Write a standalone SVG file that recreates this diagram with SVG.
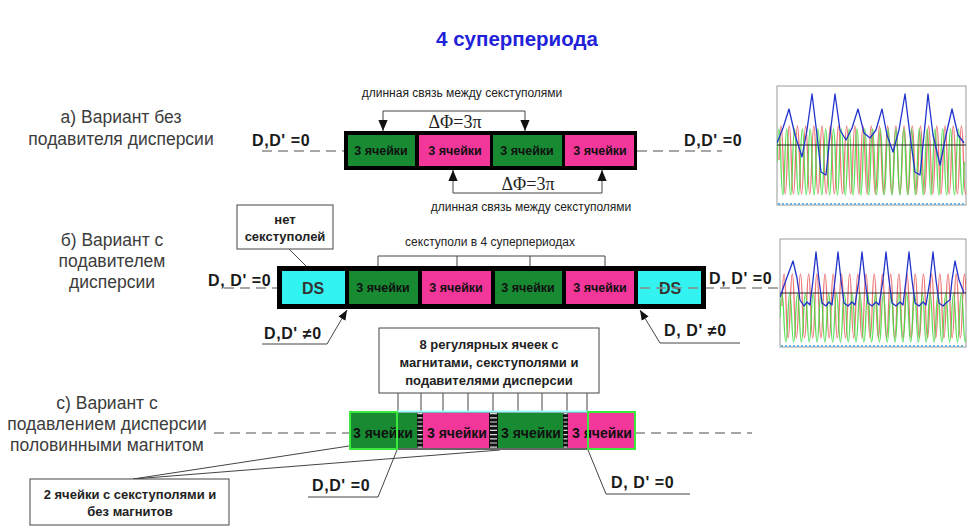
<svg xmlns="http://www.w3.org/2000/svg" width="974" height="527" viewBox="0 0 974 527">
<defs>
<style>
.lbl{font-family:"Liberation Sans",Arial,sans-serif;font-size:17.5px;fill:#3c3c3c;text-anchor:middle}
.cell{font-family:"Liberation Sans",Arial,sans-serif;font-weight:bold;font-size:12.5px;fill:#111;text-anchor:middle}
.cellc{font-family:"Liberation Sans",Arial,sans-serif;font-weight:bold;font-size:14px;fill:#111;text-anchor:middle}
.ds{font-family:"Liberation Sans",Arial,sans-serif;font-weight:bold;font-size:16px;fill:#333;text-anchor:middle}
.dd{font-family:"Liberation Sans",Arial,sans-serif;font-weight:bold;font-size:16px;fill:#1a1a1a;letter-spacing:0.6px}
.sm{font-family:"Liberation Sans",Arial,sans-serif;font-size:12px;fill:#222;text-anchor:middle}
.bx{font-family:"Liberation Sans",Arial,sans-serif;font-weight:bold;font-size:13px;fill:#222;text-anchor:middle}
.phi{font-family:"Liberation Serif","Times New Roman",serif;font-size:18px;fill:#222;text-anchor:middle}
.box{fill:#fff;stroke:#444;stroke-width:1}
.dash{stroke:#8a8a8a;stroke-width:1.5;stroke-dasharray:10 6;fill:none}
.ln{stroke:#444;stroke-width:1;fill:none}
.g{fill:#178a32}.p{fill:#f2369a}.c{fill:#33f3f0}
.frame{fill:#fff;stroke:#9a9a9a;stroke-width:1}
</style>
<marker id="ah" viewBox="0 0 10 10" refX="10" refY="5" markerWidth="11" markerHeight="11" markerUnits="userSpaceOnUse" orient="auto">
<path d="M0,0.8 L10,5 L0,9.2 z" fill="#111"/>
</marker>
<marker id="ah2" viewBox="0 0 10 10" refX="10" refY="5" markerWidth="10" markerHeight="10" markerUnits="userSpaceOnUse" orient="auto">
<path d="M0,1 L10,5 L0,9 z" fill="#111"/>
</marker>
<clipPath id="cp1"><rect x="777" y="86" width="189" height="119"/></clipPath>
<clipPath id="cp2"><rect x="780" y="239" width="186" height="108"/></clipPath>
</defs>
<rect width="974" height="527" fill="#fff"/>

<text x="517" y="46" font-family="Liberation Sans,Arial,sans-serif" font-weight="bold" font-size="20.5" fill="#1f22d8" text-anchor="middle">4 суперпериода</text>

<g id="labels">
<text class="lbl" x="121" y="123">а) Вариант без</text>
<text class="lbl" x="121" y="145">подавителя дисперсии</text>
<text class="lbl" x="112" y="246">б) Вариант с</text>
<text class="lbl" x="112" y="267">подавителем</text>
<text class="lbl" x="112" y="288">дисперсии</text>
<text class="lbl" x="107" y="409">с) Вариант с</text>
<text class="lbl" x="107" y="430">подавлением дисперсии</text>
<text class="lbl" x="107" y="451">половинными магнитом</text>
</g>

<g id="connectors">
<path class="dash" d="M262,151 H344 M637,151 H722"/>
<path class="ln" d="M383,111 H525"/>
<path class="ln" d="M383,111 V131" marker-end="url(#ah)"/>
<path class="ln" d="M525,111 V131" marker-end="url(#ah)"/>
<path class="ln" d="M453,193 H602"/>
<path class="ln" d="M453,193 V170" marker-end="url(#ah)"/>
<path class="ln" d="M602,193 V170" marker-end="url(#ah)"/>
<path class="dash" d="M224,288 H278 M640,288 H778"/>
<path class="ln" d="M378,256 H605 M378,256 V267 M457,256 V267 M530,256 V267 M605,256 V267"/>
<path class="ln" d="M289,249 L307,267"/>
<path class="ln" d="M262,344 H327 L347,310" marker-end="url(#ah2)"/>
<path class="ln" d="M740,343 H660 L640,310" marker-end="url(#ah2)"/>
<path class="dash" d="M214,433 H350 M635,433 H752"/>
<path class="ln" d="M398,393 V412 M421,393 V412 M443,393 V412 M468,393 V412 M493,393 V412 M518,393 V412 M542,393 V412 M567,393 V412 M587,393 V412"/>
<path class="ln" d="M308,497 H378 L397,450"/>
<path class="ln" d="M690,494 H606 L588,450"/>
<path class="ln" d="M133,479 L349,446 M133,479 L500,450"/>
</g>

<g id="row-a-texts">
<text class="sm" x="462" y="97">длинная связь между секступолями</text>
<text class="phi" x="455" y="128">ΔΦ=3π</text>
<text class="phi" x="528" y="190">ΔΦ=3π</text>
<text class="sm" x="531" y="211">длинная связь между секступолями</text>
<text class="dd" x="252" y="146">D,D' =0</text>
<text class="dd" x="684" y="146">D,D' =0</text>
</g>

<g id="row-a-bar">
<rect x="344" y="131" width="293" height="39" fill="#000"/>
<g id="a-cell1"><rect class="g" x="348" y="135" width="67" height="31"/><text class="cell" x="381" y="155">3 ячейки</text></g>
<g id="a-cell2"><rect class="p" x="419" y="135" width="71" height="31"/><text class="cell" x="455" y="155">3 ячейки</text></g>
<g id="a-cell3"><rect class="g" x="493" y="135" width="69" height="31"/><text class="cell" x="527" y="155">3 ячейки</text></g>
<g id="a-cell4"><rect class="p" x="565" y="135" width="69" height="31"/><text class="cell" x="600" y="155">3 ячейки</text></g>
</g>

<g id="row-b-texts">
<text class="sm" x="490" y="246" font-size="13">секступоли в 4 суперпериодах</text>
<text class="dd" x="208" y="286">D, D' =0</text>
<text class="dd" x="709" y="284">D, D' =0</text>
<text class="dd" x="264" y="339">D,D' ≠0</text>
<text class="dd" x="664" y="336">D, D' ≠0</text>
</g>

<g id="no-sext-box">
<rect class="box" x="237" y="205" width="96" height="44"/>
<text class="bx" x="285" y="224" font-size="13">нет</text>
<text class="bx" x="285" y="241" font-size="13">секступолей</text>
</g>

<g id="row-b-bar">
<rect x="277" y="266" width="429" height="43" fill="#000"/>
<g id="b-ds1"><rect class="c" x="282" y="271" width="63" height="33"/><text class="ds" x="313" y="294">DS</text></g>
<g id="b-cell1"><rect class="g" x="349" y="271" width="69" height="33"/><text class="cell" x="383" y="292">3 ячейки</text></g>
<g id="b-cell2"><rect class="p" x="422" y="271" width="69" height="33"/><text class="cell" x="456" y="292">3 ячейки</text></g>
<g id="b-cell3"><rect class="g" x="495" y="271" width="67" height="33"/><text class="cell" x="528" y="292">3 ячейки</text></g>
<g id="b-cell4"><rect class="p" x="566" y="271" width="68" height="33"/><text class="cell" x="600" y="292">3 ячейки</text></g>
<g id="b-ds2"><rect class="c" x="638" y="271" width="63" height="33"/><text class="ds" x="670" y="294">DS</text></g>
<path class="dash" d="M640,288 H701"/>
</g>

<g id="reg-box">
<rect class="box" x="379" y="328" width="220" height="65"/>
<text class="bx" x="489" y="349">8 регулярных ячеек с</text>
<text class="bx" x="489" y="367">магнитами, секступолями и</text>
<text class="bx" x="489" y="385">подавителями  дисперсии</text>
</g>

<g id="row-c-bar">
<rect x="349" y="411" width="287" height="39" fill="#666"/>
<g id="c-cell1"><rect class="g" x="350" y="413" width="67" height="35"/><text class="cellc" x="383" y="438">3 ячейки</text></g>
<rect x="417" y="413" width="6" height="35" fill="#111"/>
<path d="M420,413 V448" stroke="#ddd" stroke-width="5" stroke-dasharray="1.2 3"/>
<g id="c-cell2"><rect class="p" x="423" y="413" width="66" height="35"/><text class="cellc" x="457" y="438">3 ячейки</text></g>
<rect x="489" y="413" width="9" height="35" fill="#111"/>
<path d="M493.5,413 V448" stroke="#ddd" stroke-width="7" stroke-dasharray="1.2 3"/>
<g id="c-cell3"><rect class="g" x="498" y="413" width="65" height="35"/><text class="cellc" x="531" y="438">3 ячейки</text></g>
<rect x="563" y="413" width="5" height="35" fill="#111"/>
<path d="M565.5,413 V448" stroke="#ddd" stroke-width="4" stroke-dasharray="1.2 3"/>
<g id="c-cell4"><rect class="p" x="568" y="413" width="66" height="35"/><text class="cellc" x="602" y="438">3 ячейки</text></g>
<path d="M397,411.5 H588" stroke="#9ff" stroke-width="2"/>
<rect x="350" y="412" width="47" height="37" fill="none" stroke="#3de83d" stroke-width="2"/>
<rect x="588" y="412" width="47" height="37" fill="none" stroke="#3de83d" stroke-width="2"/>
</g>

<g id="row-c-texts">
<text class="dd" x="312" y="491">D,D' =0</text>
<text class="dd" x="611" y="488">D, D' =0</text>
</g>

<g id="two-cells-box">
<rect class="box" x="30" y="479" width="199" height="46"/>
<text class="bx" x="130" y="499" font-size="12.5">2 ячейки с секступолями и</text>
<text class="bx" x="130" y="516" font-size="12.5">без магнитов</text>
</g>

<g id="plot-a">
<rect class="frame" x="777" y="86" width="189" height="119"/>
<g clip-path="url(#cp1)" fill="none" stroke-linejoin="round">
<path stroke="#e84848" stroke-opacity="0.75" stroke-width="1.3" d="M779,160 q2.05,-68 4.1,0 t4.1,0 t4.1,0 t4.1,0 t4.1,0 t4.1,0 t4.1,0 t4.1,0 t4.1,0 t4.1,0 t4.1,0 t4.1,0 t4.1,0 t4.1,0 t4.1,0 t4.1,0 t4.1,0 t4.1,0 t4.1,0 t4.1,0 t4.1,0 t4.1,0 t4.1,0 t4.1,0 t4.1,0 t4.1,0 t4.1,0 t4.1,0 t4.1,0 t4.1,0 t4.1,0 t4.1,0 t4.1,0 t4.1,0 t4.1,0 t4.1,0 t4.1,0 t4.1,0 t4.1,0 t4.1,0 t4.1,0 t4.1,0 t4.1,0 t4.1,0 t4.1,0 t4.1,0"/>
<path stroke="#3cdc3c" stroke-opacity="0.85" stroke-width="1.3" d="M777,162 q1.95,-66 3.9,0 t3.9,0 t3.9,0 t3.9,0 t3.9,0 t3.9,0 t3.9,0 t3.9,0 t3.9,0 t3.9,0 t3.9,0 t3.9,0 t3.9,0 t3.9,0 t3.9,0 t3.9,0 t3.9,0 t3.9,0 t3.9,0 t3.9,0 t3.9,0 t3.9,0 t3.9,0 t3.9,0 t3.9,0 t3.9,0 t3.9,0 t3.9,0 t3.9,0 t3.9,0 t3.9,0 t3.9,0 t3.9,0 t3.9,0 t3.9,0 t3.9,0 t3.9,0 t3.9,0 t3.9,0 t3.9,0 t3.9,0 t3.9,0 t3.9,0 t3.9,0 t3.9,0 t3.9,0 t3.9,0 t3.9,0"/>
<path stroke="#222" stroke-width="1.2" d="M777,145 H966"/>
<polyline stroke="#2233cc" stroke-width="1.3" points="777,143 783,128 789,109 795,135 802,157 807,130 812,94 817,135 821,172 826,175 830,135 835,94 840,130 846,140 852,128 858,109 864,133 870,138 876,130 882,109 887,135 893,152 899,130 905,94 910,135 915,172 920,175 924,135 928,94 933,135 940,165 946,135 952,109 958,135 964,143"/>
</g>
<path d="M778,204 H965" stroke="#6ab0e0" stroke-width="2" stroke-dasharray="2 2"/>
</g>

<g id="plot-b">
<rect class="frame" x="780" y="239" width="186" height="108"/>
<g clip-path="url(#cp2)" fill="none" stroke-linejoin="round">
<path stroke="#e84848" stroke-opacity="0.75" stroke-width="1.3" d="M782,306 q2.05,-64 4.1,0 t4.1,0 t4.1,0 t4.1,0 t4.1,0 t4.1,0 t4.1,0 t4.1,0 t4.1,0 t4.1,0 t4.1,0 t4.1,0 t4.1,0 t4.1,0 t4.1,0 t4.1,0 t4.1,0 t4.1,0 t4.1,0 t4.1,0 t4.1,0 t4.1,0 t4.1,0 t4.1,0 t4.1,0 t4.1,0 t4.1,0 t4.1,0 t4.1,0 t4.1,0 t4.1,0 t4.1,0 t4.1,0 t4.1,0 t4.1,0 t4.1,0 t4.1,0 t4.1,0 t4.1,0 t4.1,0 t4.1,0 t4.1,0 t4.1,0 t4.1,0 t4.1,0"/>
<path stroke="#3cdc3c" stroke-opacity="0.85" stroke-width="1.3" d="M780,318 q1.95,-48 3.9,0 t3.9,0 t3.9,0 t3.9,0 t3.9,0 t3.9,0 t3.9,0 t3.9,0 t3.9,0 t3.9,0 t3.9,0 t3.9,0 t3.9,0 t3.9,0 t3.9,0 t3.9,0 t3.9,0 t3.9,0 t3.9,0 t3.9,0 t3.9,0 t3.9,0 t3.9,0 t3.9,0 t3.9,0 t3.9,0 t3.9,0 t3.9,0 t3.9,0 t3.9,0 t3.9,0 t3.9,0 t3.9,0 t3.9,0 t3.9,0 t3.9,0 t3.9,0 t3.9,0 t3.9,0 t3.9,0 t3.9,0 t3.9,0 t3.9,0 t3.9,0 t3.9,0 t3.9,0 t3.9,0 t3.9,0"/>
<path stroke="#222" stroke-width="1.2" d="M780,293 H966"/>
<polyline stroke="#2233cc" stroke-width="1.3" points="780,297 786,280 793,261 797,278 800,300 804,306 807,302 810,305 813,280 816,252 819,280 822,303 826,306 829,302 832,305 835,280 838,252 841,280 844,303 848,306 852,302 855,305 859,280 862,252 865,280 868,303 872,306 876,302 879,305 883,280 886,252 889,280 892,303 896,306 900,302 903,305 906,280 909,252 912,280 915,303 919,306 923,302 926,305 930,280 933,252 936,280 939,303 943,306 947,302 950,300 952,280 955,261 959,280 964,293"/>
</g>
<path d="M781,346 H965" stroke="#6ab0e0" stroke-width="2" stroke-dasharray="2 2"/>
</g>
</svg>
